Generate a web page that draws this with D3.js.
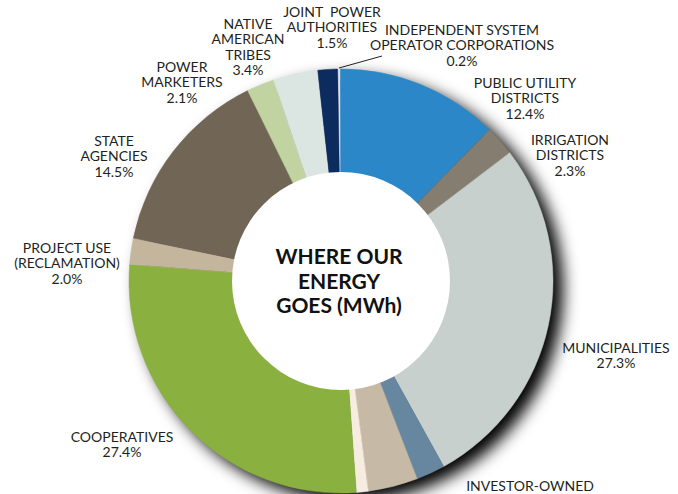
<!DOCTYPE html>
<html>
<head>
<meta charset="utf-8">
<script src="https://cdn.jsdelivr.net/npm/d3@7"></script>
<style>
  body { margin: 0; background: #fff; }
  svg { display: block; }
  .label { font-family: Lato, "Noto Sans", sans-serif; font-size: 14px; fill: #231f20; text-anchor: middle; }
  .title { font-family: Lato, "Noto Sans", sans-serif; font-size: 21px; font-weight: 700; fill: #111; text-anchor: middle; }
</style>
</head>
<body>
<svg id="chart"></svg>
<script>
// Share of energy sold, clockwise from the top
const categories = [
  'INDEPENDENT SYSTEM OPERATOR CORPORATIONS', 'PUBLIC UTILITY DISTRICTS', 'IRRIGATION DISTRICTS',
  'MUNICIPALITIES', 'INVESTOR-OWNED UTILITIES', 'FEDERAL AGENCIES', 'INTERPROJECT',
  'COOPERATIVES', 'PROJECT USE (RECLAMATION)', 'STATE AGENCIES', 'POWER MARKETERS',
  'NATIVE AMERICAN TRIBES', 'JOINT POWER AUTHORITIES'
];
const shares = [0.2, 12.4, 2.3, 27.3, 2.2, 3.8, 0.9, 27.4, 2.0, 14.5, 2.1, 3.4, 1.5];
const colors = [
  '#dfe9ec', '#2b87c8', '#857d70', '#c8d0cd', '#6787a0', '#c6b9a6', '#f7ece0',
  '#8ab040', '#c4b69c', '#716556', '#c2d3a2', '#dbe5e1', '#0c2b5e'
];
// label text lines (null = label falls outside the picture)
const labelLines = [
  ['INDEPENDENT SYSTEM', 'OPERATOR CORPORATIONS', '0.2%'],
  ['PUBLIC UTILITY', 'DISTRICTS', '12.4%'],
  ['IRRIGATION', 'DISTRICTS', '2.3%'],
  ['MUNICIPALITIES', '27.3%'],
  ['INVESTOR-OWNED'],
  null,
  null,
  ['COOPERATIVES', '27.4%'],
  ['PROJECT USE', '(RECLAMATION)', '2.0%'],
  ['STATE', 'AGENCIES', '14.5%'],
  ['POWER', 'MARKETERS', '2.1%'],
  ['NATIVE', 'AMERICAN', 'TRIBES', '3.4%'],
  ['JOINT\u00a0\u00a0POWER', 'AUTHORITIES', '1.5%']
];
const titleLines = ['WHERE OUR', 'ENERGY', 'GOES (MWh)'];

// layout: label anchor (center x, first baseline)
const labelPos = [
  [462, 35], [525, 88], [570, 145], [616, 353], [530, 491], null, null,
  [122, 442], [67, 253], [114, 146], [182, 72], [248, 29], [332, 17]
];

const width = 678, height = 494;
const cx = 341, cy = 281, outerR = 212, innerR = 109;
const lineH = 15.4;

const svg = d3.select('#chart')
    .attr('width', width)
    .attr('height', height);

const defs = svg.append('defs');
defs.append('filter')
    .attr('id', 'shadow')
    .attr('x', '-30%').attr('y', '-30%')
    .attr('width', '160%').attr('height', '160%')
  .append('feGaussianBlur')
    .attr('stdDeviation', 8);

const chart = svg.append('g')
    .attr('transform', `translate(${cx},${cy})`);

// drop shadow behind the ring
chart.append('circle')
    .attr('cx', 10)
    .attr('cy', 8)
    .attr('r', outerR)
    .attr('fill', '#000')
    .attr('opacity', 1)
    .attr('filter', 'url(#shadow)');

const start = -0.9 * Math.PI / 180;
const pie = d3.pie()
    .sort(null)
    .startAngle(start)
    .endAngle(start + 2 * Math.PI);

const arc = d3.arc()
    .innerRadius(0)
    .outerRadius(outerR);

const arcs = pie(shares);

chart.selectAll('path.slice')
    .data(arcs)
    .join('path')
      .attr('class', 'slice')
      .attr('d', arc)
      .attr('fill', (d, i) => colors[i])
      .attr('stroke', (d, i) => i === 0 ? '#fff' : colors[i])
      .attr('stroke-width', (d, i) => i === 0 ? 0.8 : 0.5);

// white centre
chart.append('circle')
    .attr('r', innerR)
    .attr('fill', '#fff');

// leader line for the thin ISO slice
const iso = arcs[0];
const isoAngle = (iso.startAngle + iso.endAngle) / 2;
chart.append('line')
    .attr('x1', (outerR + 1) * Math.sin(isoAngle))
    .attr('y1', -(outerR + 1) * Math.cos(isoAngle))
    .attr('x2', 382 - cx)
    .attr('y2', 56 - cy)
    .attr('stroke', '#231f20')
    .attr('stroke-width', 1);

// slice labels
labelLines.forEach((lines, i) => {
  if (!lines) return;
  const [x, y] = labelPos[i];
  const t = svg.append('text')
      .attr('class', 'label')
      .attr('x', x)
      .attr('y', y);
  lines.forEach((s, j) => {
    t.append('tspan')
        .attr('x', x)
        .attr('dy', j === 0 ? 0 : lineH)
        .text(s);
  });
});

// centre title
const title = svg.append('text')
    .attr('class', 'title')
    .attr('x', cx - 2)
    .attr('y', 264);
titleLines.forEach((s, j) => {
  title.append('tspan')
      .attr('x', cx - 2)
      .attr('dy', j === 0 ? 0 : 24.5)
      .text(s);
});
</script>
</body>
</html>
